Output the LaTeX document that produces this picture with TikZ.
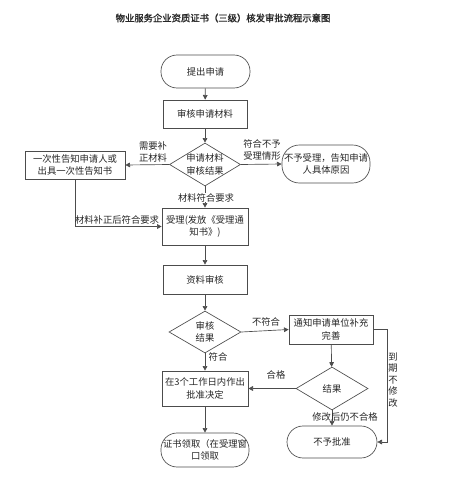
\documentclass[tikz,border=0pt]{standalone}
\usepackage{fontspec}
\setmainfont{Noto Sans CJK SC}
\newfontfamily\titlefont[FakeBold=1.5]{Noto Sans CJK SC}
\usetikzlibrary{shapes.geometric,arrows.meta}
\begin{document}
\begin{tikzpicture}[x=0.75pt,y=-0.75pt,
  every node/.style={font=\fontsize{7}{9.5}\selectfont, text=black!85},
  box/.style={draw=black!70, line width=0.5pt, rectangle, align=center, inner sep=1pt},
  term/.style={draw=black!70, line width=0.5pt, rectangle, rounded corners=12pt, align=center, inner sep=1pt},
  dia/.style={draw=black!70, line width=0.5pt, diamond, inner sep=0pt},
  lbl/.style={align=center, inner sep=0.5pt},
  arr/.style={draw=black!70, line width=0.5pt, -{Triangle[length=3.5pt,width=3.5pt]}}
]
\useasboundingbox (0,0) rectangle (458,500);
\node[font=\titlefont\fontsize{7}{9}\selectfont] (title) at (223,18) {物业服务企业资质证书（三级）核发审批流程示意图};

\node[term, minimum width=66.75pt, minimum height=24.75pt] (start) at (205.5,71.5) {提出申请};
\node[box, minimum width=63pt, minimum height=21pt] (check) at (205,114) {审核申请材料};
\node[dia, minimum width=53.25pt, minimum height=32.25pt, label={[lbl]center:申请材料\\审核结果}] (d1) at (205,164.5) {};
\node[box, minimum width=75pt, minimum height=21pt] (ntf) at (75,165) {一次性告知申请人或\\出具一次性告知书};
\node[term, minimum width=66pt, minimum height=28.5pt, rounded corners=13pt] (rej1) at (326,164) {不予受理，告知申请\\人具体原因};
\node[box, minimum width=64.5pt, minimum height=27.75pt] (accept) at (205,226.5) {受理(发放《受理通\\知书》)};
\node[box, minimum width=63pt, minimum height=21.75pt] (review) at (205,279.5) {资料审核};
\node[dia, minimum width=54pt, minimum height=31.5pt, label={[lbl]center:审核\\结果}] (d2) at (205,332) {};
\node[box, minimum width=63pt, minimum height=21.75pt] (notify) at (331,329.5) {通知申请单位补充\\完善};
\node[box, minimum width=64.5pt, minimum height=26.25pt] (approve) at (205,388.5) {在3个工作日内作出\\批准决定};
\node[dia, minimum width=54pt, minimum height=32.25pt, label={[lbl]center:结果}] (d3) at (332,388.5) {};
\node[term, minimum width=67.5pt, minimum height=24pt] (rej2) at (332,442) {不予批准};
\node[term, minimum width=66pt, minimum height=25.5pt] (cert) at (205,450) {证书领取（在受理窗\\口领取};

\coordinate (c1) at (75,226.5);
\coordinate (c2) at (387,329.5);
\coordinate (c3) at (387,442);

\draw[arr] (start) -- (check);
\draw[arr] (check) -- (d1);
\draw[arr] (d1.west) -- (ntf.east);
\draw[arr] (d1.east) -- (rej1.west);
\draw[arr] (d1.south) -- (accept.north);
\draw[arr] (ntf.south) -- (c1) -- (accept.west);
\draw[arr] (accept) -- (review);
\draw[arr] (review) -- (d2);
\draw[arr] (d2.east) -- (notify.west);
\draw[arr] (d2.south) -- (approve.north);
\draw[arr] (notify) -- (d3);
\draw[arr] (d3.west) -- (approve.east);
\draw[arr] (d3.south) -- (rej2.north);
\draw[arr] (notify.east) -- (c2) -- (c3) -- (rej2.east);
\draw[arr] (approve) -- (cert);

\node[lbl] (l1) at (153,152) {需要补\\正材料};
\node[lbl] (l2) at (262,150) {符合不予\\受理情形};
\node[lbl, fill=white] (l3) at (206,197.5) {材料符合要求};
\node[lbl] (l4) at (117,220) {材料补正后符合要求};
\node[lbl] (l5) at (266,322) {不符合};
\node[lbl] (l6) at (218,357) {符合};
\node[lbl] (l7) at (276,375) {合格};
\node[lbl] (l8) at (345,417) {修改后仍不合格};
\node[lbl, font=\fontsize{7}{8.6}\selectfont] (l9) at (393,380) {到\\期\\不\\修\\改};
\end{tikzpicture}
\end{document}
